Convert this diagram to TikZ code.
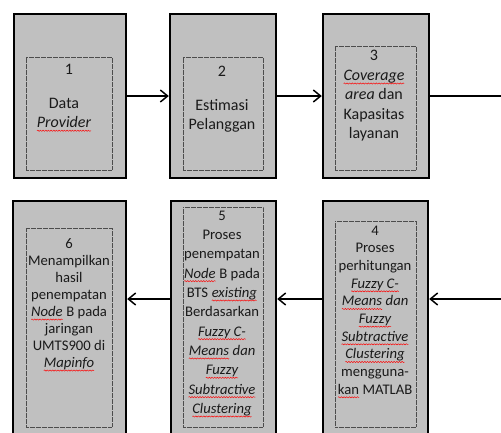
\documentclass[tikz,border=0pt]{standalone}
\usepackage{fontspec}
\setmainfont{Carlito}
\usetikzlibrary{arrows.meta,fit,decorations.pathmorphing}
\newcommand\sq[1]{\tikz[x=1pt,y=1pt,baseline=(w.base)]{\node[inner sep=0pt,outer sep=0pt,anchor=base] (w) at (0,0) {#1};
  \draw[red, line width=0.35pt, decorate, decoration={snake,amplitude=0.45pt,segment length=2pt}] (w.base west) ++(0,-2.3) -- ([yshift=-2.3pt]w.base east);}}
\definecolor{boxgray}{HTML}{C0C0C0}
\definecolor{txt}{HTML}{1A1A1A}
\tikzset{
  outerbox/.style={draw=black, fill=boxgray, line width=1.8pt, inner sep=0pt},
  innerbox/.style={draw=black!70, line width=0.55pt, dash pattern=on 0.35pt off 0.55pt, inner sep=0pt},
  lbl/.style={align=center, inner sep=0pt, text=txt},
  arr/.style={line width=1.1pt, -{Straight Barb[length=5.5pt,width=9pt,line width=1.1pt]}},
  plain/.style={line width=1.1pt}
}
\begin{document}
\begin{tikzpicture}[x=0.75pt,y=-0.75pt]
\clip (0,0) rectangle (501,433);
\fill[white] (0,0) rectangle (501,433);
% top row
\node[outerbox, fit={(14,14) (126,178)}] (b1) {};
\node[outerbox, fit={(170,14) (276,178)}] (b2) {};
\node[outerbox, fit={(323,14) (429,178)}] (b3) {};
\node[innerbox, fit={(26,57) (112,170)}] (i1) {};
\node[innerbox, fit={(183,57) (263,170)}] (i2) {};
\node[innerbox, fit={(335,46) (416,170)}] (i3) {};
% bottom row
\node[outerbox, fit={(13,201) (126,450)}] (b6) {};
\node[outerbox, fit={(171,201) (276,450)}] (b5) {};
\node[outerbox, fit={(323,201) (428,450)}] (b4) {};
\node[innerbox, fit={(26,228) (112,427)}] (i6) {};
\node[innerbox, fit={(183,207) (263,427)}] (i5) {};
\node[innerbox, fit={(335,221) (416,427)}] (i4) {};
% texts
\node[lbl, font=\fontsize{12pt}{14.25pt}\selectfont] (n1) at (69,69) {1};
\node[lbl, font=\fontsize{12pt}{14.25pt}\selectfont] (t1) at (64,115) {Data\\\textit{\sq{Provider}}};
\node[lbl, font=\fontsize{12pt}{14.25pt}\selectfont] (n2) at (222,71) {2};
\node[lbl, font=\fontsize{12pt}{14.25pt}\selectfont] (t2) at (222,116) {Estimasi\\Pelanggan};
\node[lbl, font=\fontsize{12pt}{14.6pt}\selectfont] (t3) at (374,96) {3\\\textit{\sq{Coverage}}\\\textit{area} dan\\Kapasitas\\layanan};
\node[lbl, font=\fontsize{11pt}{13.25pt}\selectfont] (t4) at (375,312) {4\\Proses\\perhitungan\\\textit{\sq{Fuzzy C-}}\\\textit{\sq{Means} dan}\\\textit{\sq{Fuzzy}}\\\textit{\sq{Subtractive}}\\\textit{\sq{Clustering}}\\mengguna-\\\sq{kan} MATLAB};
\node[lbl, font=\fontsize{11pt}{14.5pt}\selectfont] (t5) at (222,314) {5\\Proses\\penempatan\\\textit{\sq{Node}} B pada\\BTS \textit{\sq{existing}}\\Berdasarkan\\\textit{\sq{Fuzzy C-}}\\\textit{\sq{Means} dan}\\\textit{\sq{Fuzzy}}\\\textit{\sq{Subtractive}}\\\textit{\sq{Clustering}}};
\node[lbl, font=\fontsize{11pt}{12.75pt}\selectfont] (t6) at (69,305) {6\\Menampilkan\\hasil\\penempatan\\\textit{\sq{Node}} B pada\\jaringan\\UMTS900 di\\\textit{\sq{Mapinfo}}};
% connectors
\coordinate (r1) at (510,96);
\coordinate (r2) at (510,299);
\draw[arr] (b1.east) -- (b2.west);
\draw[arr] (b2.east) -- (b3.west);
\draw[plain] (b3.east) -- (r1);
\draw[arr] (r2) -- (b4.east |- r2);
\draw[arr] (b4.west |- r2) -- (b5.east |- r2);
\draw[arr] (b5.west |- r2) -- (b6.east |- r2);
\end{tikzpicture}
\end{document}
